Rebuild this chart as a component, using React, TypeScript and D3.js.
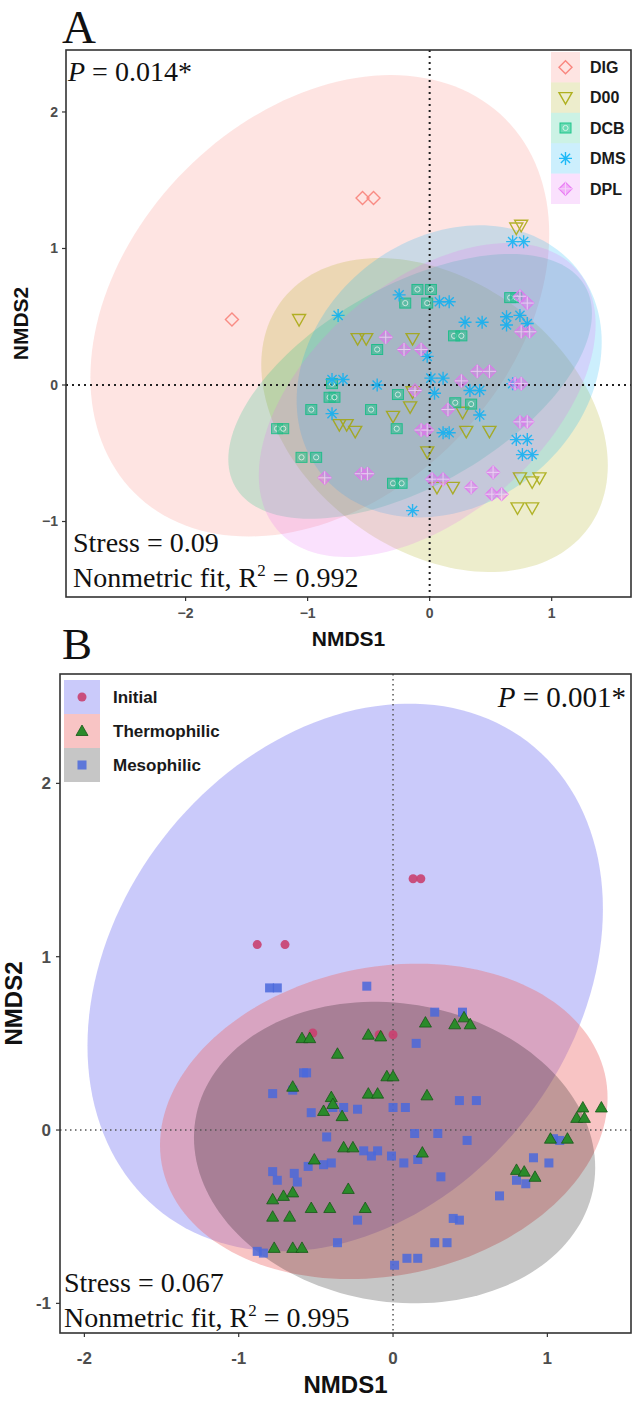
import React from "react";
import * as d3 from "d3";

// ---------- Panel A data ----------
const groupsA = ["DIG", "D00", "DCB", "DMS", "DPL"];
const colorsA = ["#F8766D", "#A3A500", "#00BF7D", "#00B0F6", "#E76BF3"];

const ptsDIG = [[-1.62, 0.48], [-0.55, 1.37], [-0.46, 1.37]];
const ptsD00 = [[-1.07, 0.48], [0.71, 1.15], [0.75, 1.17], [-0.59, 0.34], [-0.52, 0.34], [-0.14, 0.34], [-0.74, -0.29], [-0.68, -0.29], [-0.61, -0.34], [-0.16, -0.16], [-0.30, -0.23], [0.30, -0.34], [0.49, -0.34], [-0.02, -0.49], [0.06, -0.75], [0.19, -0.75], [0.74, -0.68], [0.84, -0.71], [0.90, -0.68], [0.72, -0.90], [0.84, -0.90], [-0.14, -0.05], [0.27, -0.20]];
const ptsDCB = [[-1.25, -0.32], [-1.20, -0.32], [-1.05, -0.53], [-0.93, -0.53], [-0.97, -0.18], [-0.82, -0.09], [-0.78, -0.09], [-0.80, 0.01], [-0.43, 0.26], [-0.48, -0.18], [-0.26, -0.07], [-0.27, -0.32], [-0.30, -0.72], [-0.23, -0.72], [0.21, -0.13], [0.34, -0.14], [0.20, 0.36], [0.26, 0.36], [-0.10, 0.70], [0.01, 0.70], [-0.20, 0.60], [-0.02, 0.60], [0.66, 0.64], [0.71, 0.64]];
const ptsDMS = [[0.68, 1.05], [0.77, 1.05], [-0.25, 0.66], [0.08, 0.61], [0.16, 0.61], [-0.75, 0.51], [0.29, 0.46], [0.43, 0.46], [0.63, 0.50], [0.63, 0.44], [0.74, 0.51], [0.80, 0.45], [-0.02, 0.21], [0.01, 0.05], [0.11, 0.05], [-0.43, 0.00], [0.04, -0.06], [0.33, -0.04], [0.41, -0.04], [0.41, -0.22], [0.11, -0.35], [0.16, -0.35], [0.68, 0.01], [0.71, -0.40], [0.80, -0.40], [0.76, -0.51], [0.84, -0.51], [-0.14, -0.92], [-0.80, 0.04], [-0.71, 0.04], [-0.80, -0.21]];
const ptsDPL = [[0.74, 0.65], [0.80, 0.60], [0.75, 0.39], [0.82, 0.39], [-0.36, 0.35], [-0.21, 0.26], [-0.07, 0.26], [0.39, 0.10], [0.49, 0.10], [0.26, 0.03], [-0.12, -0.04], [0.70, 0.01], [0.75, 0.01], [0.15, -0.18], [-0.07, -0.33], [-0.02, -0.33], [0.74, -0.27], [0.80, -0.27], [0.52, -0.64], [0.02, -0.69], [0.11, -0.69], [0.34, -0.75], [0.51, -0.80], [0.59, -0.80], [-0.86, -0.68], [-0.56, -0.65], [-0.51, -0.65]];

// ellipse: centre x, centre y, half-width, half-height, correlation
const ellDIG = [-0.90, 0.58, 1.88, 1.69, 0.31];
const ellD00 = [0.04, -0.22, 1.42, 1.15, -0.32];
const ellDCB = [-0.16, -0.01, 1.49, 0.97, 0.55];
const ellDMS = [0.16, 0.10, 1.25, 1.07, 0.20];
const ellDPL = [-0.02, -0.11, 1.38, 1.15, 0.48];

const ticksAX = [-2, -1, 0, 1];
const ticksAY = [-1, 0, 1, 2];

// ---------- Panel B data ----------
const groupsB = ["Initial", "Thermophilic", "Mesophilic"];
const ptsInitial = [[-0.88, 1.07], [-0.70, 1.07], [0.13, 1.45], [0.18, 1.45], [-0.52, 0.56], [0.00, 0.55], [-0.09, 0.55]];
const ptsThermo = [[-0.59, 0.53], [-0.54, 0.53], [-0.16, 0.55], [-0.08, 0.54], [-0.36, 0.44], [-0.04, 0.31], [0.00, 0.31], [-0.65, 0.25], [-0.16, 0.21], [-0.10, 0.21], [-0.40, 0.19], [-0.45, 0.11], [-0.39, 0.15], [-0.33, 0.08], [-0.32, -0.10], [-0.26, -0.10], [-0.51, -0.17], [-0.29, -0.34], [-0.78, -0.40], [-0.71, -0.38], [-0.65, -0.36], [-0.53, -0.45], [-0.41, -0.45], [-0.18, -0.45], [-0.78, -0.50], [-0.67, -0.50], [-0.77, -0.68], [-0.65, -0.68], [-0.59, -0.68], [0.21, 0.62], [0.40, 0.61], [0.46, 0.65], [0.50, 0.61], [0.22, 0.20], [0.19, -0.13], [1.23, 0.13], [1.35, 0.13], [1.19, 0.07], [1.24, 0.07], [1.13, -0.05], [1.02, -0.05], [0.80, -0.23], [0.85, -0.24], [0.92, -0.27]];
const ptsMeso = [[-0.80, 0.82], [-0.75, 0.82], [-0.17, 0.83], [-0.58, 0.33], [-0.56, 0.33], [-0.78, 0.21], [-0.65, 0.23], [-0.53, 0.10], [-0.39, 0.13], [-0.32, 0.13], [-0.23, 0.12], [0.00, 0.13], [0.08, 0.13], [-0.43, -0.04], [-0.19, -0.12], [-0.10, -0.12], [-0.14, -0.15], [-0.01, -0.15], [0.07, -0.19], [0.16, -0.17], [-0.55, -0.21], [-0.45, -0.20], [-0.40, -0.19], [-0.64, -0.25], [-0.62, -0.30], [-0.78, -0.24], [-0.75, -0.29], [-0.88, -0.70], [-0.84, -0.71], [0.15, 0.50], [0.27, 0.68], [0.45, 0.68], [0.43, 0.17], [0.54, 0.17], [0.14, -0.02], [0.29, -0.02], [0.48, -0.06], [0.31, -0.27], [-0.23, -0.52], [-0.36, -0.65], [0.39, -0.51], [0.43, -0.52], [0.27, -0.65], [0.35, -0.65], [0.01, -0.78], [0.09, -0.74], [0.16, -0.74], [0.91, -0.16], [1.01, -0.19], [1.04, -0.05], [1.08, -0.06], [0.80, -0.29], [0.86, -0.31], [0.69, -0.38]];

const ellInitial = [-0.31, 0.88, 1.67, 1.58, 0.25];
const ellThermo = [-0.06, 0.05, 1.45, 0.91, 0.15];
const ellMeso = [0.01, -0.13, 1.30, 0.87, -0.10];

const ticksBX = [-2, -1, 0, 1];
const ticksBY = [-1, 0, 1, 2];

// ---------- layout ----------
const W = 632, H = 1402;
const PA = { left: 66, right: 631, top: 50, bottom: 597 };
const PB = { left: 60, right: 631, top: 674, bottom: 1333 };

const xA = d3.scaleLinear().domain([-2.98, 1.65]).range([PA.left, PA.right]);
const yA = d3.scaleLinear().domain([-1.553, 2.454]).range([PA.bottom, PA.top]);
const xB = d3.scaleLinear().domain([-2.158, 1.542]).range([PB.left, PB.right]);
const yB = d3.scaleLinear().domain([-1.171, 2.631]).range([PB.bottom, PB.top]);

const SERIF = "'Liberation Serif', 'Times New Roman', serif";
const SANS = "'Liberation Sans', Arial, sans-serif";

function ellipsePath(e: number[], x: any, y: any) {
  const [cx, cy, ax, ay, r] = e;
  const s = Math.sqrt(1 - r * r);
  const pts = d3.range(0, 160).map((i) => {
    const t = (i / 160) * 2 * Math.PI;
    return [cx + ax * Math.cos(t), cy + ay * (r * Math.cos(t) + s * Math.sin(t))];
  });
  return d3.line().x((d: any) => x(d[0])).y((d: any) => y(d[1])).curve(d3.curveLinearClosed)(pts as any) || "";
}

function MarkerA({ g, x, y }: { g: number; x: number; y: number }) {
  const c = colorsA[g];
  if (g === 0)
    return <path d={`M${x},${y - 6.5}L${x + 6.5},${y}L${x},${y + 6.5}L${x - 6.5},${y}Z`} fill="none" stroke={c} strokeWidth={1.4} />;
  if (g === 1)
    return <path d={`M${x - 6.5},${y - 5}L${x + 6.5},${y - 5}L${x},${y + 6.5}Z`} fill="none" stroke={c} strokeWidth={1.4} />;
  if (g === 2)
    return (
      <g>
        <rect x={x - 5.5} y={y - 5} width={11} height={10} fill={c} fillOpacity={0.55} stroke={c} strokeWidth={1} />
        <circle cx={x} cy={y} r={2.6} fill="none" stroke="#d6f5e6" strokeWidth={1} />
      </g>
    );
  if (g === 3) {
    const r = 6.5, d = r * 0.707;
    return (
      <path d={`M${x - r},${y}L${x + r},${y}M${x},${y - r}L${x},${y + r}M${x - d},${y - d}L${x + d},${y + d}M${x - d},${y + d}L${x + d},${y - d}`} stroke={c} strokeWidth={1.4} />
    );
  }
  return (
    <g>
      <path d={`M${x},${y - 6.5}L${x + 6.5},${y}L${x},${y + 6.5}L${x - 6.5},${y}Z`} fill={c} fillOpacity={0.5} stroke={c} strokeWidth={1.2} />
      <path d={`M${x - 6.5},${y}L${x + 6.5},${y}M${x},${y - 6.5}L${x},${y + 6.5}`} stroke="#f6d2fa" strokeWidth={1} />
    </g>
  );
}

const markerColB = ["#C9406F", "#2A8A2A", "#4A68DC"];
function MarkerB({ g, x, y }: { g: number; x: number; y: number }) {
  if (g === 0) return <circle cx={x} cy={y} r={4.5} fill={markerColB[0]} opacity={0.9} />;
  if (g === 1)
    return <path d={`M${x},${y - 6}L${x + 6},${y + 4.5}L${x - 6},${y + 4.5}Z`} fill={markerColB[1]} stroke="#175717" strokeWidth={0.8} />;
  return <rect x={x - 4.5} y={y - 4.5} width={9} height={9} fill={markerColB[2]} opacity={0.85} />;
}

export default function App() {
  const ptsA = [ptsDIG, ptsD00, ptsDCB, ptsDMS, ptsDPL];
  const ellsA = [ellDIG, ellD00, ellDCB, ellDMS, ellDPL];
  const ptsB = [ptsInitial, ptsThermo, ptsMeso];
  const ellsB = [ellInitial, ellThermo, ellMeso];
  const ellFillB = ["rgba(80,80,240,0.3)", "rgba(237,108,108,0.4)", "#C6C6C6"];
  const legFillB = ["#CACAFA", "#F8C4C4", "#C6C6C6"];
  const drawOrderB = [0, 2, 1];
  const legRowA = 30.4;
  const legRowB = 34;

  return (
    <svg width={W} height={H} style={{ position: "absolute", left: 0, top: 0, display: "block", background: "#fff" }} xmlns="http://www.w3.org/2000/svg">
      <defs>
        <clipPath id="clipA"><rect x={PA.left} y={PA.top} width={PA.right - PA.left} height={PA.bottom - PA.top} /></clipPath>
        <clipPath id="clipB"><rect x={PB.left} y={PB.top} width={PB.right - PB.left} height={PB.bottom - PB.top} /></clipPath>
      </defs>
      <rect x={0} y={0} width={W} height={H} fill="#fff" />

      {/* ================= Panel A ================= */}
      <text x={62} y={43} fontFamily={SERIF} fontSize={47} fill="#111">A</text>
      <g clipPath="url(#clipA)">
        {ellsA.map((e, i) => (
          <path key={i} d={ellipsePath(e, xA, yA)} fill={colorsA[i]} fillOpacity={0.2} stroke="none" />
        ))}
        <line x1={xA(0)} x2={xA(0)} y1={PA.top} y2={PA.bottom} stroke="#222" strokeWidth={2} strokeDasharray="2 4" />
        <line x1={PA.left} x2={PA.right} y1={yA(0)} y2={yA(0)} stroke="#222" strokeWidth={2} strokeDasharray="2 4" />
        <g opacity={0.8}>
          {ptsA.map((arr, g) => arr.map((p, j) => <MarkerA key={g + "-" + j} g={g} x={xA(p[0])} y={yA(p[1])} />))}
        </g>
      </g>
      <rect x={PA.left} y={PA.top} width={PA.right - PA.left} height={PA.bottom - PA.top} fill="none" stroke="#333" strokeWidth={1.6} />
      {/* axes A */}
      {ticksAY.map((t) => (
        <g key={"ay" + t}>
          <line x1={PA.left - 4} x2={PA.left} y1={yA(t)} y2={yA(t)} stroke="#333" strokeWidth={1.2} />
          <text x={PA.left - 8} y={yA(t)} dy="0.35em" textAnchor="end" fontFamily={SANS} fontWeight="bold" fontSize={14} fill="#4D4D4D">{d3.format("d")(t)}</text>
        </g>
      ))}
      {ticksAX.map((t) => (
        <g key={"ax" + t}>
          <line x1={xA(t)} x2={xA(t)} y1={PA.bottom} y2={PA.bottom + 4} stroke="#333" strokeWidth={1.2} />
          <text x={xA(t)} y={PA.bottom + 16} dy="0.35em" textAnchor="middle" fontFamily={SANS} fontWeight="bold" fontSize={14} fill="#4D4D4D">{d3.format("d")(t)}</text>
        </g>
      ))}
      <text x={(PA.left + PA.right) / 2} y={646} textAnchor="middle" fontFamily={SANS} fontWeight="bold" fontSize={21} fill="#111">NMDS1</text>
      <text transform={`translate(28,${(PA.top + PA.bottom) / 2}) rotate(-90)`} textAnchor="middle" fontFamily={SANS} fontWeight="bold" fontSize={21} fill="#111">NMDS2</text>
      <text x={68} y={81} fontFamily={SERIF} fontSize={28} fill="#111"><tspan fontStyle="italic">P</tspan> = 0.014*</text>
      <text x={73} y={552} fontFamily={SERIF} fontSize={28} fill="#111">Stress = 0.09</text>
      <text x={73} y={587} fontFamily={SERIF} fontSize={28} fill="#111">Nonmetric fit, R<tspan fontSize={17} dy={-11}>2</tspan><tspan dy={11}> = 0.992</tspan></text>
      {/* legend A */}
      <g>
        <rect x={549} y={PA.top + 1} width={81} height={legRowA * 5 + 2} fill="#fff" />
        {groupsA.map((name, i) => {
          const yy = PA.top + 2 + i * legRowA;
          return (
            <g key={name}>
              <rect x={551} y={yy} width={29} height={legRowA} fill={colorsA[i]} fillOpacity={0.2} />
              <g opacity={0.85}><MarkerA g={i} x={565.5} y={yy + legRowA / 2} /></g>
              <text x={590} y={yy + legRowA / 2} dy="0.36em" fontFamily={SANS} fontWeight="bold" fontSize={16} fill="#1a1a1a">{name}</text>
            </g>
          );
        })}
      </g>

      {/* ================= Panel B ================= */}
      <text x={62} y={659} fontFamily={SERIF} fontSize={45} fill="#111">B</text>
      <g clipPath="url(#clipB)">
        {ellsB.map((e, i) => (
          <path key={i} d={ellipsePath(e, xB, yB)} fill={ellFillB[i]} stroke="none" style={i === 2 ? { mixBlendMode: "multiply" } : undefined} />
        ))}
        <line x1={xB(0)} x2={xB(0)} y1={PB.top} y2={PB.bottom} stroke="#555" strokeWidth={1.5} strokeDasharray="1.5 3.5" />
        <line x1={PB.left} x2={PB.right} y1={yB(0)} y2={yB(0)} stroke="#555" strokeWidth={1.5} strokeDasharray="1.5 3.5" />
        {drawOrderB.map((g) => ptsB[g].map((p, j) => <MarkerB key={g + "-" + j} g={g} x={xB(p[0])} y={yB(p[1])} />))}
      </g>
      <rect x={PB.left} y={PB.top} width={PB.right - PB.left} height={PB.bottom - PB.top} fill="none" stroke="#333" strokeWidth={1.6} />
      {ticksBY.map((t) => (
        <g key={"by" + t}>
          <line x1={PB.left - 4} x2={PB.left} y1={yB(t)} y2={yB(t)} stroke="#333" strokeWidth={1.2} />
          <text x={PB.left - 9} y={yB(t)} dy="0.35em" textAnchor="end" fontFamily={SANS} fontWeight="bold" fontSize={17} fill="#4D4D4D">{String(t)}</text>
        </g>
      ))}
      {ticksBX.map((t) => (
        <g key={"bx" + t}>
          <line x1={xB(t)} x2={xB(t)} y1={PB.bottom} y2={PB.bottom + 4} stroke="#333" strokeWidth={1.2} />
          <text x={xB(t)} y={PB.bottom + 25} dy="0.35em" textAnchor="middle" fontFamily={SANS} fontWeight="bold" fontSize={17} fill="#4D4D4D">{String(t)}</text>
        </g>
      ))}
      <text x={(PB.left + PB.right) / 2} y={1393} textAnchor="middle" fontFamily={SANS} fontWeight="bold" fontSize={24} fill="#111">NMDS1</text>
      <text transform={`translate(22,${(PB.top + PB.bottom) / 2}) rotate(-90)`} textAnchor="middle" fontFamily={SANS} fontWeight="bold" fontSize={24} fill="#111">NMDS2</text>
      <text x={626} y={707} textAnchor="end" fontFamily={SERIF} fontSize={29} fill="#111"><tspan fontStyle="italic">P</tspan> = 0.001*</text>
      <text x={64} y={1292} fontFamily={SERIF} fontSize={28} fill="#111">Stress = 0.067</text>
      <text x={64} y={1327} fontFamily={SERIF} fontSize={28} fill="#111">Nonmetric fit, R<tspan fontSize={17} dy={-11}>2</tspan><tspan dy={11}> = 0.995</tspan></text>
      {/* legend B */}
      {groupsB.map((name, i) => {
        const yy = 680 + i * legRowB;
        return (
          <g key={name}>
            <rect x={64} y={yy} width={36} height={legRowB} fill={legFillB[i]} />
            <MarkerB g={i} x={82} y={yy + legRowB / 2} />
            <text x={113} y={yy + legRowB / 2} dy="0.36em" fontFamily={SANS} fontWeight="bold" fontSize={17} fill="#1a1a1a">{name}</text>
          </g>
        );
      })}
    </svg>
  );
}
